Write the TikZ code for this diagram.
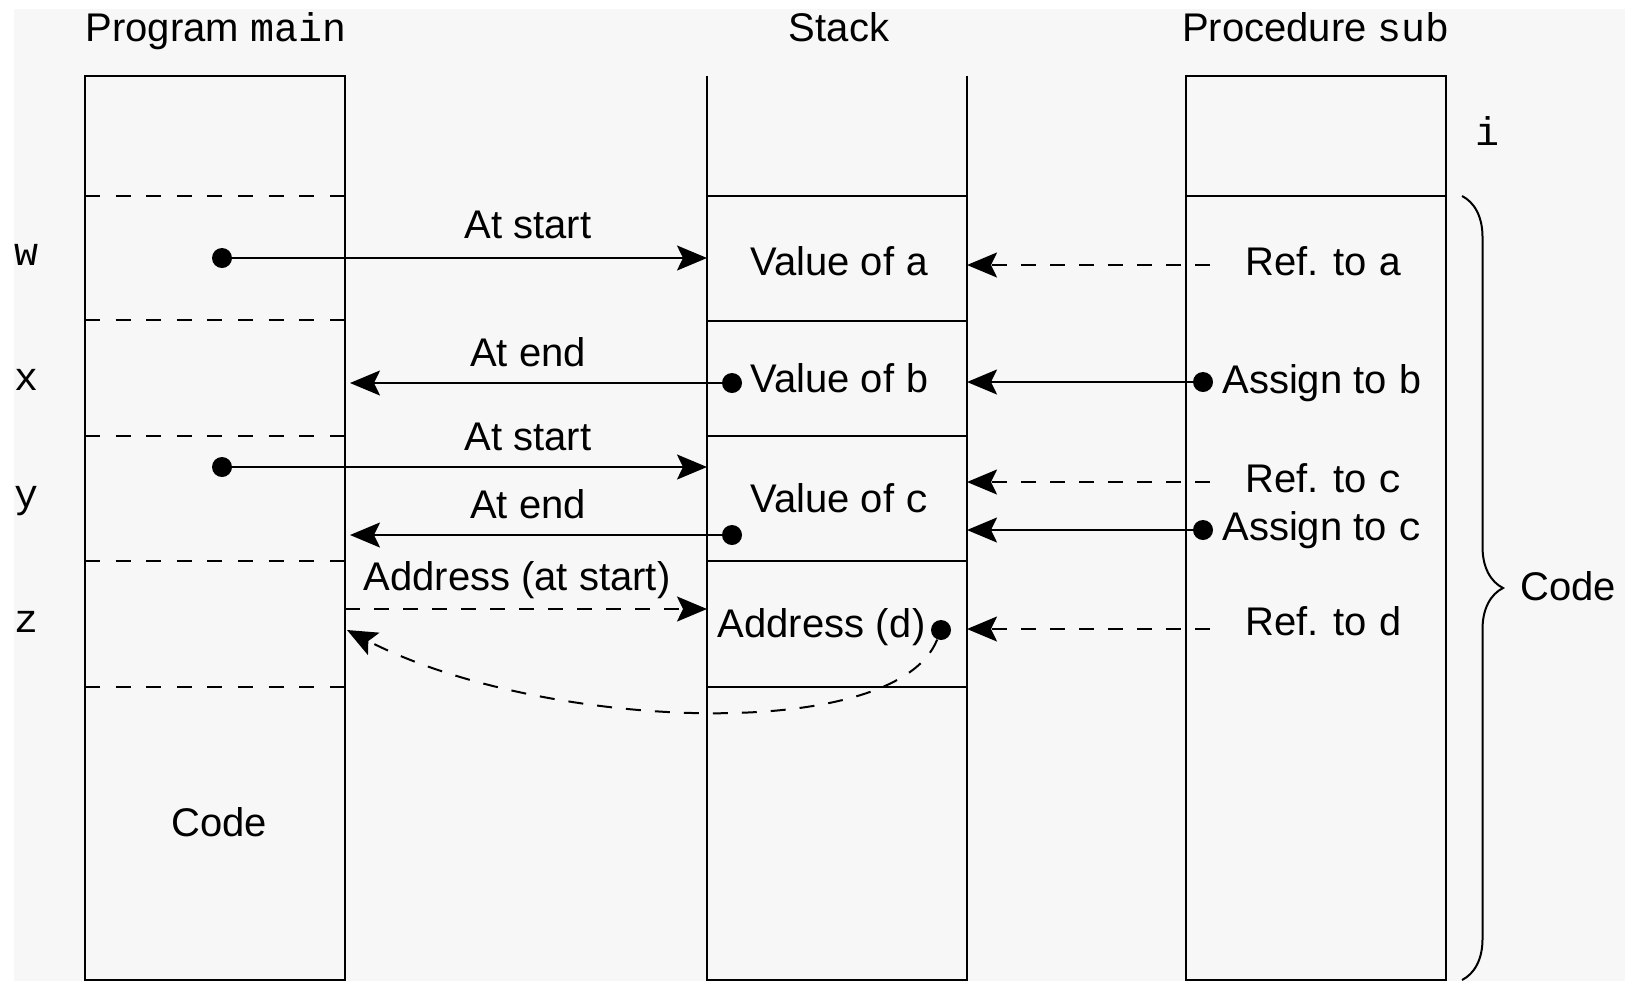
\documentclass[tikz,border=0pt]{standalone}
\usepackage{fontspec}
\setmainfont{Liberation Sans}
\setmonofont{Liberation Mono}
\usetikzlibrary{arrows.meta,decorations.pathreplacing}
\definecolor{paper}{HTML}{F7F7F7}
\begin{document}
\begin{tikzpicture}[x=0.5pt,y=-0.5pt,
  font=\fontsize{20}{24}\selectfont,
  boxline/.style={line width=1.3pt},
  sepline/.style={line width=1pt, dash pattern=on 7.5pt off 7.8pt},
  arr/.style={line width=1pt, -{Stealth[length=15pt,width=12.5pt,inset=3pt]}},
  darr/.style={arr, dash pattern=on 7.5pt off 7pt},
  dot/.style={circle, fill=black, inner sep=0pt, minimum size=10pt},
  txt/.style={anchor=base, inner sep=0pt},
  ltxt/.style={anchor=base west, inner sep=0pt}]

% page and paper
\useasboundingbox (0,0) rectangle (1625,981);
\fill[white] (0,0) rectangle (1625,981);
\fill[paper] (14,9) rectangle (1625,981);

% column headings
\node[txt] (hmain) at (216,41) {Program \texttt{main}};
\node[txt] (hstack) at (839,41) {Stack};
\node[txt] (hsub) at (1316,41) {Procedure \texttt{sub}};

% program main: frame and variable slots
\draw[boxline] (85,76) rectangle (345,980);
\foreach \yy in {196,320,436,561,687}
  \draw[sepline] (85,\yy) -- (345,\yy);
\node[txt] (maincode) at (219,836) {Code};

% variable names
\node[txt] (lw) at (27,265) {\texttt{w}};
\node[txt] (lx) at (27,390) {\texttt{x}};
\node[txt] (ly) at (27,507) {\texttt{y}};
\node[txt] (lz) at (27,632) {\texttt{z}};

% stack: open at the top
\draw[boxline] (707,76) -- (707,980) -- (967,980) -- (967,76);
\foreach \yy in {196,321,436,561,687}
  \draw[boxline] (707,\yy) -- (967,\yy);
\node[txt] (sa) at (840,275) {Value of \texttt{a}};
\node[txt] (sb) at (840,392) {Value of \texttt{b}};
\node[txt] (sc) at (840,512) {Value of \texttt{c}};
\node[txt] (sd) at (822,637) {Address (\texttt{d})};

% procedure sub
\draw[boxline] (1186,76) rectangle (1446,980);
\draw[boxline] (1186,196) -- (1446,196);
\node[txt] (li) at (1487,145) {\texttt{i}};
\node[ltxt] (ra) at (1245,275) {Ref. to \texttt{a}};
\node[ltxt] (ab) at (1222,393) {Assign to \texttt{b}};
\node[ltxt] (rc) at (1245,492) {Ref. to \texttt{c}};
\node[ltxt] (ac) at (1222,540) {Assign to \texttt{c}};
\node[ltxt] (rd) at (1245,635) {Ref. to \texttt{d}};

% brace over the code part of sub
\coordinate (brtop) at (1462,196);
\coordinate (brbot) at (1462,980);
\draw[line width=1pt, decorate, decoration={brace, amplitude=20.5pt}] (brtop) -- (brbot);
\node[ltxt] (subcode) at (1520,600) {Code};

% parameter passing between main and the stack
\node[txt] (t1) at (528,238) {At start};
\node[txt] (t2) at (528,366) {At end};
\node[txt] (t3) at (528,450) {At start};
\node[txt] (t4) at (528,518) {At end};
\node[txt] (t5) at (517,590) {Address (at start)};

\node[dot] (wdot) at (222,258) {};
\coordinate (stw) at (707,258);
\draw[arr] (wdot) -- (stw);

\node[dot] (bdot) at (732,383) {};
\coordinate (mx) at (350,383);
\draw[arr] (bdot) -- (mx);

\node[dot] (ydot) at (222,467) {};
\coordinate (sty) at (707,467);
\draw[arr] (ydot) -- (sty);

\node[dot] (cdot) at (732,535) {};
\coordinate (my) at (350,535);
\draw[arr] (cdot) -- (my);

\coordinate (mz) at (345,609);
\coordinate (stz) at (707,609);
\draw[darr] (mz) -- (stz);

\node[dot] (ddot) at (941,630) {};
\coordinate (mz2) at (347,630);
\draw[darr] (ddot) .. controls (895,745) and (540,730) .. (mz2);

% references from sub into the stack
\coordinate (pa) at (1210,265);
\coordinate (sra) at (967,265);
\draw[darr] (pa) -- (sra);

\node[dot] (abdot) at (1203,382) {};
\coordinate (srb) at (967,382);
\draw[arr] (abdot) -- (srb);

\coordinate (pc) at (1210,482);
\coordinate (src) at (967,482);
\draw[darr] (pc) -- (src);

\node[dot] (acdot) at (1203,530) {};
\coordinate (src2) at (967,530);
\draw[arr] (acdot) -- (src2);

\coordinate (pd) at (1210,629);
\coordinate (srd) at (967,629);
\draw[darr] (pd) -- (srd);
\end{tikzpicture}
\end{document}
